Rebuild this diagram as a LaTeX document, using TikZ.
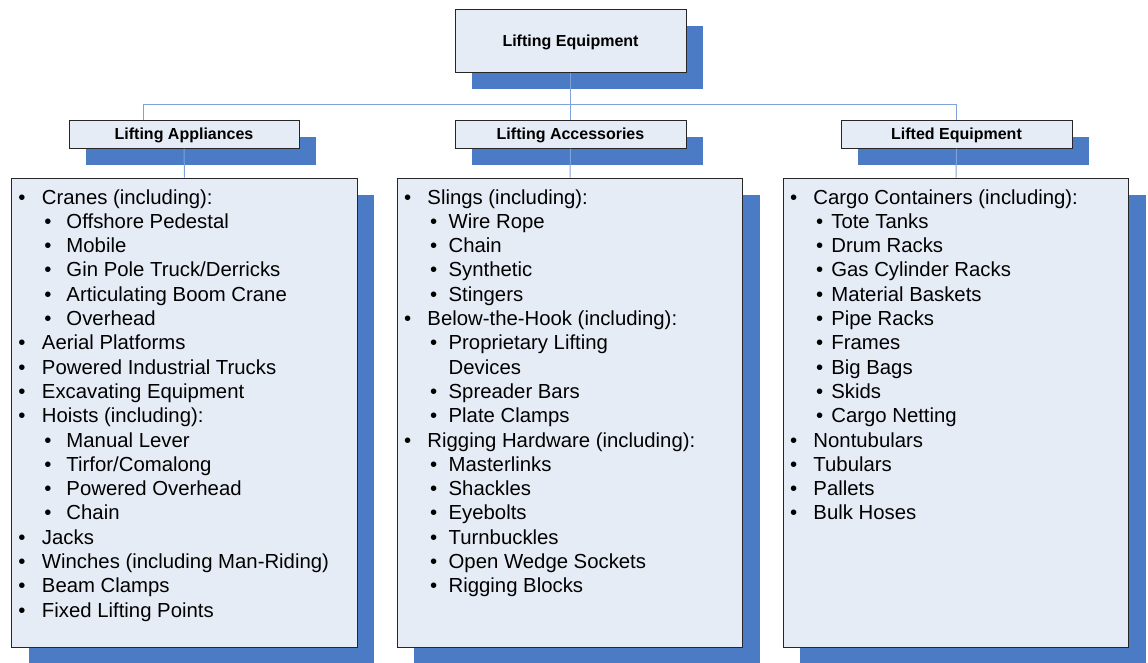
\documentclass[tikz,border=0pt]{standalone}
\usepackage{fontspec}
\setmainfont{Liberation Sans}
\usetikzlibrary{shadows}

\definecolor{boxfill}{HTML}{E6ECF6}
\definecolor{shadowblue}{HTML}{4A7BC4}
\definecolor{linkblue}{HTML}{7FA2DA}
\definecolor{boxline}{HTML}{262626}

\newlength\subw
\newcommand{\itm}[1]{\strut\makebox[17.6pt][l]{•}#1\par}
\newcommand{\sitm}[1]{\strut\hspace*{19.5pt}\makebox[\subw][l]{•}#1\par}
\newcommand{\scont}[1]{\strut\hspace*{19.5pt}\hspace*{\subw}#1\par}
\newcommand{\listbody}[2]{\parbox[c][338.5pt][t]{249pt}{%
    \fontsize{15.25}{18.22}\selectfont\setlength\subw{#1}#2}}

\tikzset{
    box/.style={draw=boxline, line width=0.75pt, fill=boxfill,
        drop shadow={shadow xshift=12.75pt, shadow yshift=-12.75pt,
            fill=shadowblue, opacity=1}},
    link/.style={draw=linkblue, line width=0.75pt}
}

\begin{document}
\begin{tikzpicture}[x=0.75pt, y=-0.75pt]
    \useasboundingbox (0,0) rectangle (1148,662);

    % headings
    \begin{scope}[every node/.style={box, font=\bfseries\fontsize{12}{14}\selectfont, inner sep=0pt, text depth=0pt}]
        \node[minimum width=173.25pt, minimum height=47.25pt] (equip) at (570.5,40.5) {Lifting Equipment};
        \node[minimum width=172.5pt, minimum height=21pt] (app) at (184,134) {Lifting Appliances};
        \node[minimum width=173.25pt, minimum height=21pt] (acc) at (570.5,134) {Lifting Accessories};
        \node[minimum width=173.25pt, minimum height=21pt] (lifted) at (956.5,134) {Lifted Equipment};
    \end{scope}

    % lists
    \begin{scope}[every node/.style={box, inner xsep=4.9pt, inner ysep=6.75pt}]
        \node (applist) at (184.5,412.75) {\listbody{16.5pt}{%
            \itm{Cranes (including):}
            \sitm{Offshore Pedestal}
            \sitm{Mobile}
            \sitm{Gin Pole Truck/Derricks}
            \sitm{Articulating Boom Crane}
            \sitm{Overhead}
            \itm{Aerial Platforms}
            \itm{Powered Industrial Trucks}
            \itm{Excavating Equipment}
            \itm{Hoists (including):}
            \sitm{Manual Lever}
            \sitm{Tirfor/Comalong}
            \sitm{Powered Overhead}
            \sitm{Chain}
            \itm{Jacks}
            \itm{Winches (including Man-Riding)}
            \itm{Beam Clamps}
            \itm{Fixed Lifting Points}}};
        \node (acclist) at (570,412.75) {\listbody{14pt}{%
            \itm{Slings (including):}
            \sitm{Wire Rope}
            \sitm{Chain}
            \sitm{Synthetic}
            \sitm{Stingers}
            \itm{Below-the-Hook (including):}
            \sitm{Proprietary Lifting}
            \scont{Devices}
            \sitm{Spreader Bars}
            \sitm{Plate Clamps}
            \itm{Rigging Hardware (including):}
            \sitm{Masterlinks}
            \sitm{Shackles}
            \sitm{Eyebolts}
            \sitm{Turnbuckles}
            \sitm{Open Wedge Sockets}
            \sitm{Rigging Blocks}}};
        \node (liftedlist) at (956,412.75) {\listbody{11.5pt}{%
            \itm{Cargo Containers (including):}
            \sitm{Tote Tanks}
            \sitm{Drum Racks}
            \sitm{Gas Cylinder Racks}
            \sitm{Material Baskets}
            \sitm{Pipe Racks}
            \sitm{Frames}
            \sitm{Big Bags}
            \sitm{Skids}
            \sitm{Cargo Netting}
            \itm{Nontubulars}
            \itm{Tubulars}
            \itm{Pallets}
            \itm{Bulk Hoses}}};
    \end{scope}

    % connectors
    \coordinate (busw) at (143,104);
    \coordinate (buse) at (lifted.north |- busw);
    \path[link] (busw) -- (buse);
    \path[link] (equip.south) -- (acc.north);
    \path[link] (busw) -- (busw |- app.north);
    \path[link] (buse) -- (lifted.north);
    \path[link] (app.south) -- (applist.north);
    \path[link] (acc.south) -- (acclist.north);
    \path[link] (lifted.south) -- (liftedlist.north);
\end{tikzpicture}
\end{document}
